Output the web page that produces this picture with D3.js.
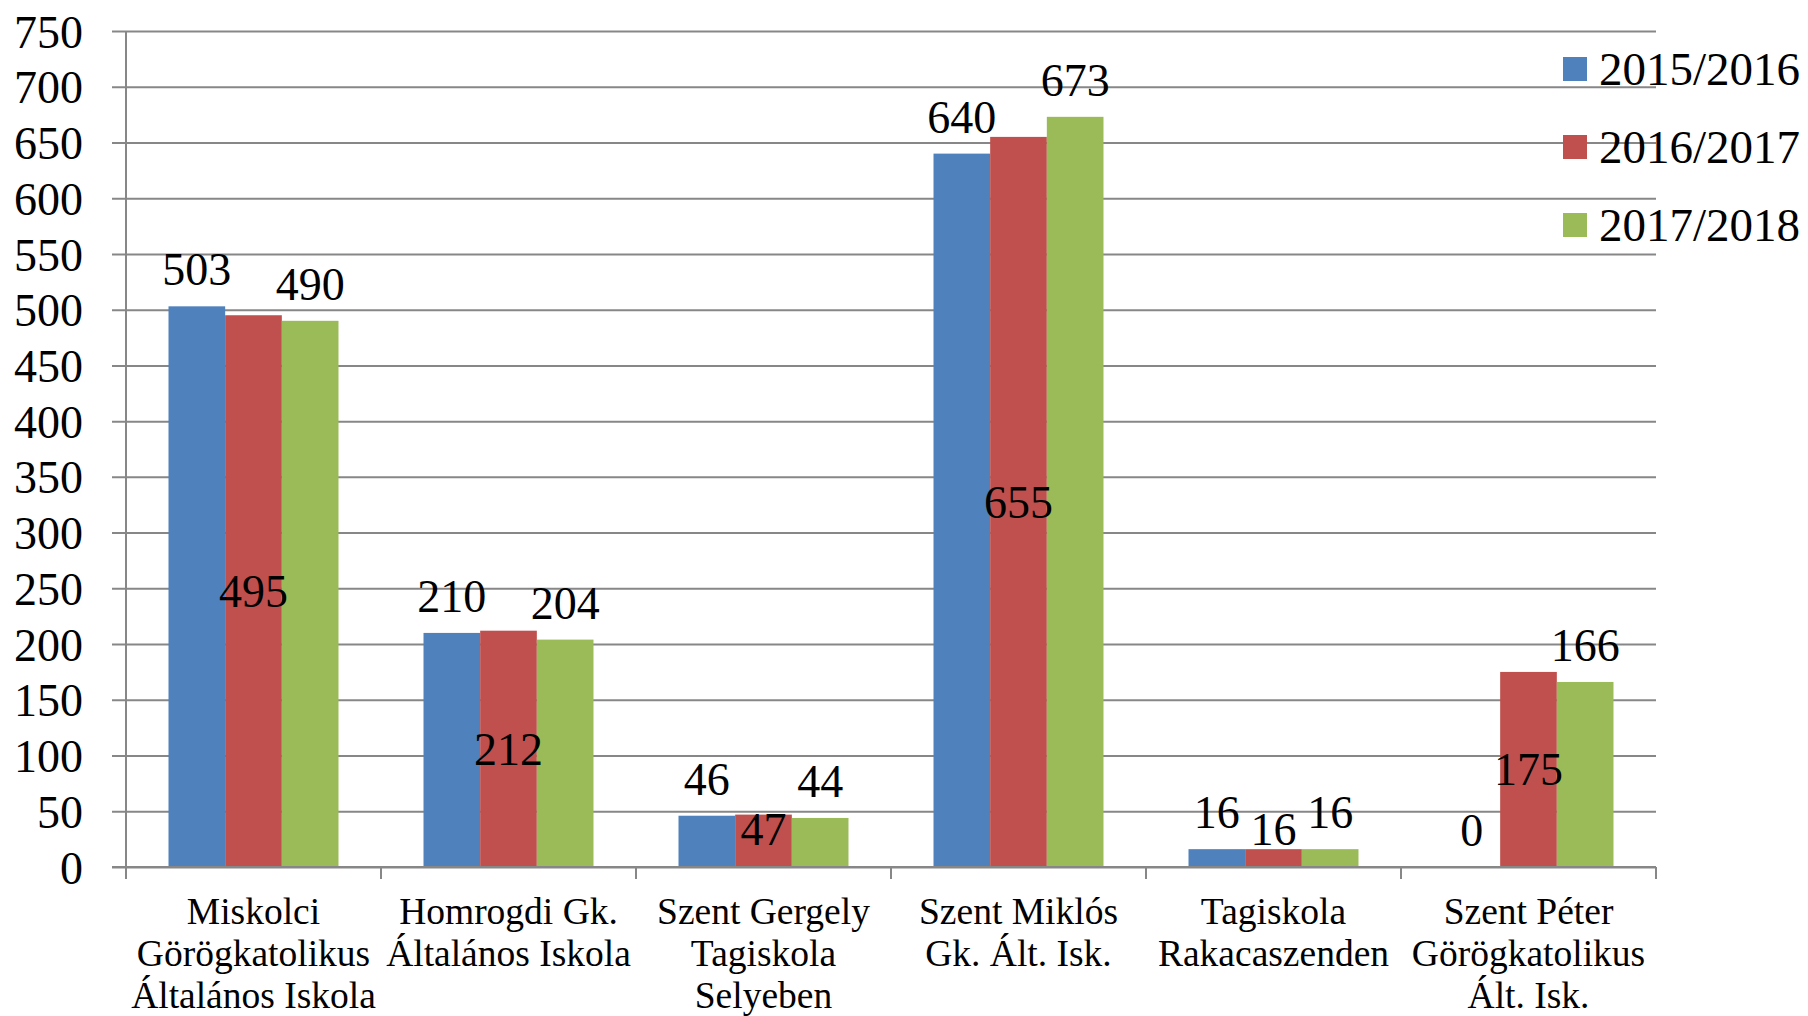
<!DOCTYPE html>
<html>
<head>
<meta charset="utf-8">
<script src="https://cdn.jsdelivr.net/npm/d3@7/dist/d3.min.js"></script>
<style>
  html, body { margin: 0; padding: 0; background: #fff; }
  svg { display: block; }
  svg text { font-family: "Liberation Serif", "Times New Roman", Times, serif !important; fill: #000; }
</style>
</head>
<body>
<svg id="chart" width="1808" height="1016" font-family="Liberation Serif"></svg>
<script>
// ---- data ----
const categories = [
  ["Miskolci", "Görögkatolikus", "Általános Iskola"],
  ["Homrogdi Gk.", "Általános Iskola"],
  ["Szent Gergely", "Tagiskola", "Selyeben"],
  ["Szent Miklós", "Gk. Ált. Isk."],
  ["Tagiskola", "Rakacaszenden"],
  ["Szent Péter", "Görögkatolikus", "Ált. Isk."]
];
const seriesNames = ["2015/2016", "2016/2017", "2017/2018"];
const values2015 = [503, 210, 46, 640, 16, 0];
const values2016 = [495, 212, 47, 655, 16, 175];
const values2017 = [490, 204, 44, 673, 16, 166];
const yTicks = [0, 50, 100, 150, 200, 250, 300, 350, 400, 450, 500, 550, 600, 650, 700, 750];

// ---- styles ----
const colors = ["#4F81BD", "#C0504D", "#9BBB59"];
const labelPlacement = ["outsideEnd", "center", "outsideEnd"];
const seriesValues = [values2015, values2016, values2017];

(function draw() {
const svg = d3.select("#chart");
const pLeft = 126, pRight = 1656, pTop = 31, pBottom = 867;
const gridColor = "#878787";
const serif = '"Liberation Serif", "Times New Roman", Times, serif';

const x = d3.scaleBand().domain(d3.range(categories.length)).range([pLeft, pRight]).paddingInner(0).paddingOuter(0);
const y = d3.scaleLinear().domain([0, 750]).range([pBottom, pTop]);
// Excel gap width 150%: 3 bars + 1.5 bar gap per category
const barW = x.bandwidth() / 4.5;
const xs = d3.scaleBand().domain(d3.range(3)).range([barW * 0.75, barW * 3.75]).padding(0);

// gridlines + y axis ticks
const yAxis = d3.axisLeft(y).tickValues(yTicks).tickSize(-(pRight - pLeft)).tickSizeOuter(0).tickPadding(0).tickFormat(d3.format("d"));
const gY = svg.append("g").attr("transform", `translate(${pLeft},0)`).call(yAxis);
gY.attr("font-family", serif).attr("font-size", 46);
gY.select(".domain").remove();
gY.selectAll(".tick line").attr("stroke", gridColor).attr("stroke-width", 2).attr("x1", -14);
gY.selectAll(".tick text").attr("x", -43).attr("dy", "0.35em").attr("font-size", 46).attr("text-anchor", "end")
  .attr("font-family", serif).attr("fill", "#000");

// bars
seriesValues.forEach((vals, si) => {
  svg.append("g").selectAll("rect").data(vals).join("rect")
    .attr("x", (d, i) => x(i) + xs(si))
    .attr("width", xs.bandwidth())
    .attr("y", d => y(d))
    .attr("height", d => y(0) - y(d))
    .attr("fill", colors[si]);
});

// y axis line
svg.append("line").attr("x1", pLeft).attr("x2", pLeft).attr("y1", pTop).attr("y2", pBottom)
  .attr("stroke", gridColor).attr("stroke-width", 2);

// x axis with ticks at category boundaries
const xTicksPos = d3.range(categories.length + 1).map(i => pLeft + i * x.bandwidth());
svg.append("line").attr("x1", pLeft - 14).attr("x2", pRight).attr("y1", pBottom).attr("y2", pBottom)
  .attr("stroke", gridColor).attr("stroke-width", 2);
svg.append("g").selectAll("line").data(xTicksPos).join("line")
  .attr("x1", d => d).attr("x2", d => d).attr("y1", pBottom).attr("y2", pBottom + 12)
  .attr("stroke", gridColor).attr("stroke-width", 2);

// category labels
const catG = svg.append("g");
categories.forEach((lines, i) => {
  const cx = x(i) + x.bandwidth() / 2;
  const t = catG.append("text").attr("text-anchor", "middle").attr("font-size", 37.5).attr("font-family", serif);
  lines.forEach((l, j) => {
    t.append("tspan").attr("x", cx).attr("y", 924 + j * 42).text(l);
  });
});

// data labels
seriesValues.forEach((vals, si) => {
  svg.append("g").selectAll("text").data(vals).join("text")
    .attr("text-anchor", "middle").attr("font-size", 46).attr("font-family", serif)
    .attr("x", (d, i) => x(i) + xs(si) + xs.bandwidth() / 2)
    .attr("y", d => {
      if (labelPlacement[si] === "center") {
        return Math.min(y(d / 2) + 16, y(0) - 22);
      }
      return y(d) - 21;
    })
    .text(d => d);
});

// legend
const legend = svg.append("g");
seriesNames.forEach((name, i) => {
  const cy = 69 + i * 78;
  legend.append("rect").attr("x", 1563).attr("y", cy - 12).attr("width", 24).attr("height", 24).attr("fill", colors[i]);
  legend.append("text").attr("x", 1599).attr("y", cy + 16).attr("font-size", 47).attr("font-family", serif).text(name);
});
})();
</script>
</body>
</html>
